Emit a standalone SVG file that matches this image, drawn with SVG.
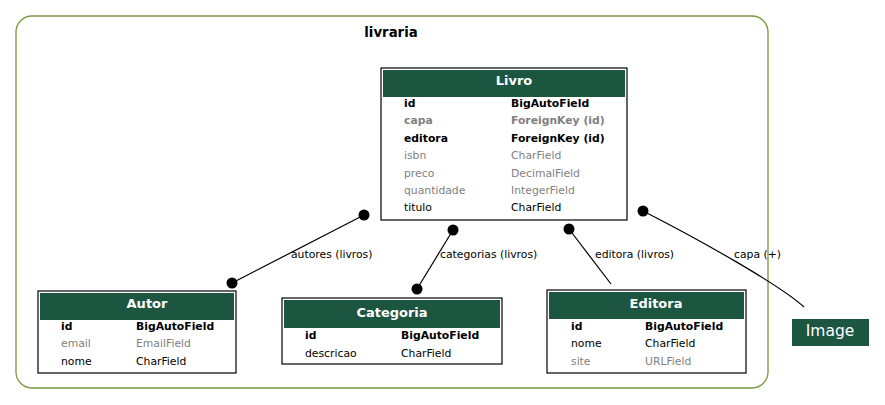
<svg xmlns="http://www.w3.org/2000/svg" width="885" height="405" viewBox="0 0 885 405">
<style>
text{font-family:"DejaVu Sans",sans-serif;}
.hdr{fill:#1c5540;}
.box{fill:#fff;stroke:#000;stroke-width:1.2;}
.title{fill:#fff;font-weight:bold;font-size:13px;text-anchor:middle;}
.f{font-size:10.8px;fill:#000;}
.b{font-weight:bold;}
.g{fill:#7f7f7f;}
.edge{fill:none;stroke:#000;stroke-width:1.2;}
.lbl{font-size:10.8px;fill:#000;}
</style>
<rect width="885" height="405" fill="#fff"/>
<g id="cluster_livraria">
<rect x="16" y="16" width="752" height="372" rx="16" fill="none" stroke="#77993c" stroke-width="1.3"/>
<text x="391" y="37" text-anchor="middle" font-weight="bold" font-size="13.3">livraria</text>
</g>
<g id="connectors">
<line class="edge" x1="364" y1="215" x2="232" y2="283"/>
<circle cx="364" cy="215" r="5.5"/>
<circle cx="232" cy="283" r="5.5"/>
<text class="lbl" x="291" y="258">autores (livros)</text>
<line class="edge" x1="453" y1="230" x2="417" y2="289"/>
<circle cx="453" cy="230" r="5.5"/>
<circle cx="417" cy="289" r="5.5"/>
<text class="lbl" x="440" y="258">categorias (livros)</text>
<line class="edge" x1="569" y1="229" x2="611" y2="284"/>
<circle cx="569" cy="229" r="5.5"/>
<text class="lbl" x="595" y="258">editora (livros)</text>
<path class="edge" d="M643,211 C700,240 780,285 804,307"/>
<circle cx="643" cy="211" r="5.5"/>
<text class="lbl" x="734" y="258">capa (+)</text>
</g>
<g id="Livro">
<rect class="box" x="381" y="68" width="246" height="152"/>
<rect class="hdr" x="383" y="70" width="242" height="27"/>
<text class="title" x="514" y="85">Livro</text>
<text class="f b" x="404" y="107">id</text><text class="f b" x="511" y="107">BigAutoField</text>
<text class="f b g" x="404" y="124">capa</text><text class="f b g" x="511" y="124">ForeignKey (id)</text>
<text class="f b" x="404" y="142">editora</text><text class="f b" x="511" y="142">ForeignKey (id)</text>
<text class="f g" x="404" y="159">isbn</text><text class="f g" x="511" y="159">CharField</text>
<text class="f g" x="404" y="177">preco</text><text class="f g" x="511" y="177">DecimalField</text>
<text class="f g" x="404" y="194">quantidade</text><text class="f g" x="511" y="194">IntegerField</text>
<text class="f" x="404" y="211">titulo</text><text class="f" x="511" y="211">CharField</text>
</g>
<g id="Autor">
<rect class="box" x="38" y="291" width="198" height="82"/>
<rect class="hdr" x="40" y="293" width="194" height="27"/>
<text class="title" x="147" y="308">Autor</text>
<text class="f b" x="61" y="330">id</text><text class="f b" x="136" y="330">BigAutoField</text>
<text class="f g" x="61" y="347">email</text><text class="f g" x="136" y="347">EmailField</text>
<text class="f" x="61" y="365">nome</text><text class="f" x="136" y="365">CharField</text>
</g>
<g id="Categoria">
<rect class="box" x="282" y="298" width="220" height="66"/>
<rect class="hdr" x="284" y="300" width="216" height="28"/>
<text class="title" x="392" y="317">Categoria</text>
<text class="f b" x="305" y="339">id</text><text class="f b" x="401" y="339">BigAutoField</text>
<text class="f" x="305" y="357">descricao</text><text class="f" x="401" y="357">CharField</text>
</g>
<g id="Editora">
<rect class="box" x="547" y="290" width="199" height="83"/>
<rect class="hdr" x="549" y="292" width="195" height="27"/>
<text class="title" x="656" y="308">Editora</text>
<text class="f b" x="571" y="330">id</text><text class="f b" x="645" y="330">BigAutoField</text>
<text class="f" x="571" y="347">nome</text><text class="f" x="645" y="347">CharField</text>
<text class="f g" x="571" y="365">site</text><text class="f g" x="645" y="365">URLField</text>
</g>
<g id="Image">
<rect class="hdr" x="792" y="319" width="77" height="27"/>
<text x="830" y="336" text-anchor="middle" fill="#fff" font-size="15.5">Image</text>
</g>
</svg>
